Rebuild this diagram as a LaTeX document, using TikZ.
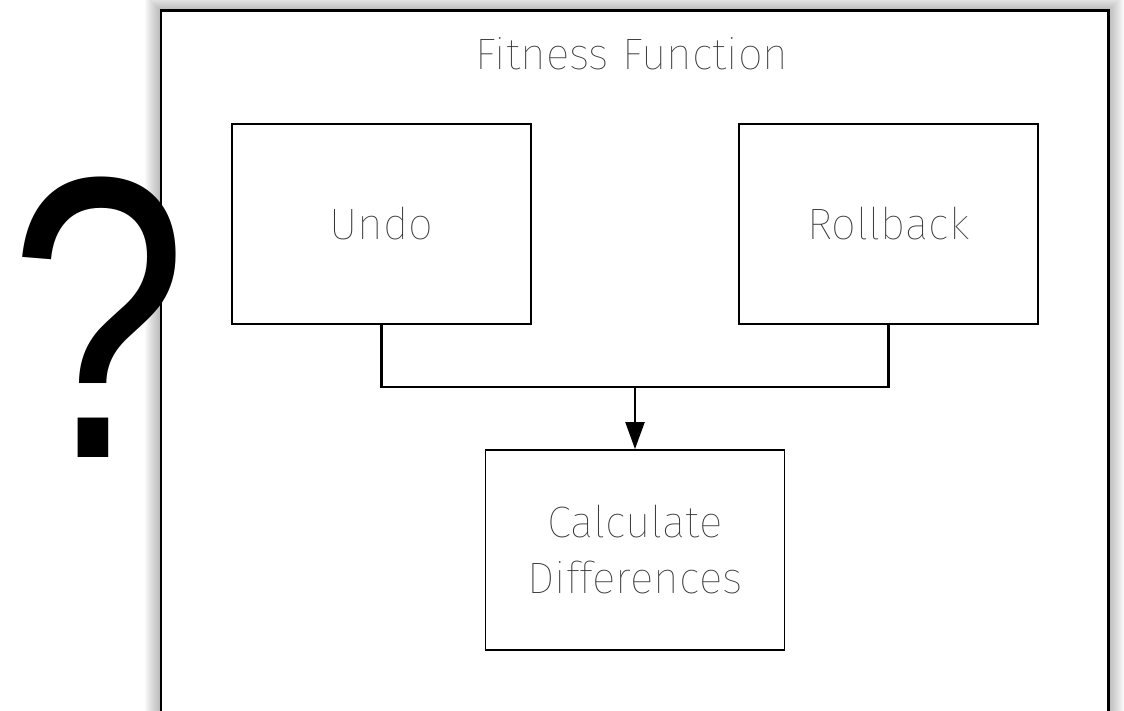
\documentclass[tikz,border=0pt]{standalone}
\usepackage{fontspec}
\usetikzlibrary{arrows.meta}
\newfontfamily\thinfont{Fira Sans Thin}
\newfontfamily\qfont{Liberation Sans}
\definecolor{labelgray}{HTML}{333333}
\tikzset{
  panel/.style={minimum width=947pt, minimum height=749pt, inner sep=0pt},
  stepbox/.style={draw, line width=1.8pt, minimum width=299pt, minimum height=200pt,
    inner sep=0pt, align=center, text=labelgray, font=\thinfont\fontsize{44}{56}\selectfont},
  conn/.style={line width=2.2pt},
}
\begin{document}
\begin{tikzpicture}[x=1pt,y=-1pt]
\useasboundingbox (0,0) rectangle (1124,711);
% soft shadow around the panel
\foreach \i in {1,...,16}
  \draw[black, opacity=0.018, line width=\i*2pt] (161,11) rectangle (1108,760);
% panel background
\node[panel, fill=white] (frame) at (634.5,385.5) {};
% the big question mark sits over the panel's left edge
\node[inner sep=0pt] (qmark) at (99,317.5) {\resizebox{178pt}{280pt}{\qfont ?}};
% panel border
\draw[line width=2.6pt] (frame.north west) rectangle (frame.south east);
\node[text=labelgray, font=\thinfont\fontsize{44}{56}\selectfont] (title) at (632,54) {Fitness Function};
\node[stepbox] (undo) at (381.5,224) {Undo};
\node[stepbox] (rollback) at (888.5,224) {Rollback};
\node[stepbox] (calc) at (635,550) {Calculate\\Differences};
\coordinate (join) at (635,387);
\draw[conn] (undo.south) |- (join);
\draw[conn] (rollback.south) |- (join);
\draw[conn, -{Triangle[length=27pt, width=19pt]}] (join) -- (calc.north);
\end{tikzpicture}
\end{document}
